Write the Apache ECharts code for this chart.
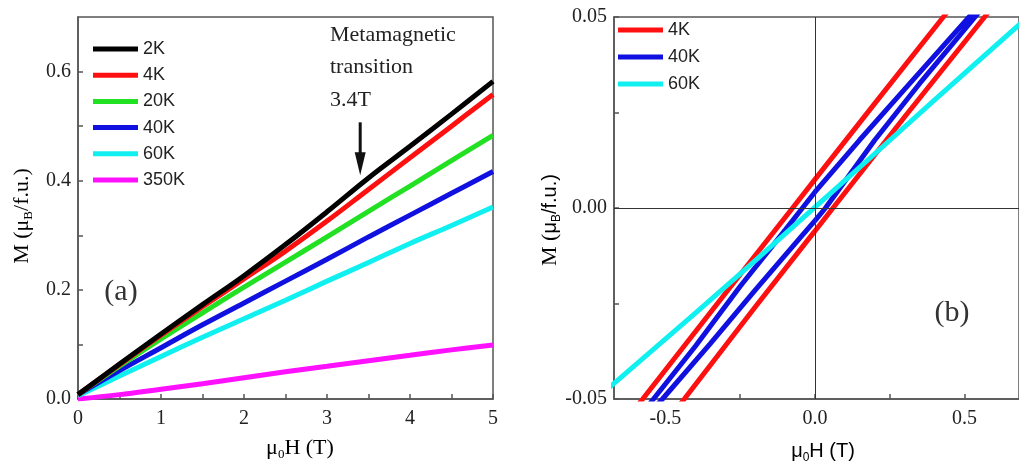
<!DOCTYPE html>
<html>
<head>
<meta charset="utf-8">
<script src="https://cdn.jsdelivr.net/npm/echarts@6/dist/echarts.min.js"></script>
<style>html,body{margin:0;padding:0;background:#fff;}#c{width:1019px;height:469px;}</style>
</head>
<body>
<div id="c"></div>
<script>
// ---------- Panel (a): M vs field ----------
const fieldA = [0, 0.5, 1, 1.5, 2, 2.5, 3, 3.5, 4, 4.5, 5];
const m2K   = [0.008, 0.064, 0.119, 0.173, 0.226, 0.283, 0.343, 0.405, 0.463, 0.522, 0.582];
const m4K   = [0.008, 0.063, 0.117, 0.169, 0.220, 0.271, 0.326, 0.384, 0.442, 0.500, 0.558];
const m20K  = [0.008, 0.060, 0.110, 0.158, 0.205, 0.251, 0.297, 0.344, 0.390, 0.437, 0.483];
const m40K  = [0.008, 0.052, 0.094, 0.136, 0.176, 0.216, 0.256, 0.297, 0.337, 0.377, 0.417];
const m60K  = [0.006, 0.042, 0.078, 0.113, 0.147, 0.181, 0.216, 0.250, 0.285, 0.318, 0.352];
const m350K = [0.000, 0.008, 0.018, 0.028, 0.039, 0.050, 0.060, 0.070, 0.080, 0.090, 0.099];
const namesA = ['2K', '4K', '20K', '40K', '60K', '350K'];
const xLabelsA = [0, 1, 2, 3, 4, 5];
const xTicksA = [0, 0.5, 1, 1.5, 2, 2.5, 3, 3.5, 4, 4.5, 5];
const yLabelsA = [0, 0.2, 0.4, 0.6];
const yTicksA = [0, 0.1, 0.2, 0.3, 0.4, 0.5, 0.6];
const arrowField = 3.4, arrowTopM = 0.507, arrowTipM = 0.41;

// ---------- Panel (b): low-field loops [H, M] ----------
const red4KDown = [[0.7, 0.0771], [0.429, 0.05], [0.2, 0.0274], [0, 0.0075], [-0.075, 0], [-0.3, -0.0224], [-0.576, -0.05], [-0.7, -0.0622]];
const red4KUp   = [[-0.7, -0.0756], [-0.437, -0.05], [-0.2, -0.0259], [0, -0.006], [0.06, 0], [0.3, 0.0239], [0.567, 0.05], [0.7, 0.0637]];
const blue40KDown = [[0.7, 0.066], [0.515, 0.05], [0.3, 0.0311], [0.149, 0.0178], [0, 0.0042], [-0.042, 0], [-0.1, -0.0058], [-0.25, -0.0205], [-0.4, -0.0362], [-0.54, -0.05], [-0.7, -0.066]];
const blue40KUp   = [[-0.7, -0.066], [-0.51, -0.05], [-0.35, -0.0355], [-0.2, -0.0215], [-0.05, -0.0078], [0, -0.0033], [0.035, 0], [0.2, 0.0178], [0.35, 0.0326], [0.535, 0.05], [0.7, 0.066]];
const cyan60K = [[-0.7, -0.0478], [-0.4, -0.0275], [-0.2, -0.0138], [0, 0.0002], [0.2, 0.0142], [0.4, 0.0283], [0.7, 0.0492]];
const namesB = ['4K', '40K', '60K'];
const xLabelsB = [-0.5, 0, 0.5];
const xTicksB = [-0.5, -0.25, 0, 0.25, 0.5];
const yLabelsB = [-0.05, 0, 0.05];
const yTicksB = [-0.05, -0.025, 0, 0.025, 0.05];

const colors = {'2K': '#000000', '4K': '#ff1010', '20K': '#22e022', '40K': '#1010e0', '60K': '#10f0f0', '350K': '#ff10ff'};

const SERIF = 'Liberation Serif';
const SANS = 'Liberation Sans';
const AX = '#555';

function pairs(xs, ys) { return xs.map((x, i) => [x, ys[i]]); }

const chart = echarts.init(document.getElementById('c'), null, {renderer: 'canvas'});

function axisCommon(labels, ticks, fmt, margin) {
  return {
    axisLine: {show: true, onZero: false, lineStyle: {color: AX, width: 1.5}},
    axisTick: {show: true, inside: true, length: 5, customValues: ticks, lineStyle: {color: AX, width: 1.5}},
    axisLabel: {customValues: labels, formatter: fmt, fontFamily: SERIF, fontSize: 20, color: '#222', margin: margin},
    splitLine: {show: false}
  };
}

const seriesA = [
  ['350K', m350K], ['60K', m60K], ['40K', m40K], ['20K', m20K], ['4K', m4K], ['2K', m2K]
].map(([n, d]) => ({
  name: n, type: 'line', xAxisIndex: 0, yAxisIndex: 0,
  data: pairs(fieldA, d), showSymbol: false, smooth: 0.4,
  lineStyle: {color: colors[n], width: 5}, itemStyle: {color: colors[n]}, silent: true
}));

const seriesB = [
  {name: '4K', data: red4KDown.concat(red4KUp)},
  {name: '40K', data: blue40KDown.concat(blue40KUp)},
  {name: '60K', data: cyan60K}
].map(s => ({
  name: s.name, type: 'line', xAxisIndex: 1, yAxisIndex: 1,
  data: s.data, showSymbol: false, smooth: false, clip: true,
  lineStyle: {color: colors[s.name], width: 5}, itemStyle: {color: colors[s.name]}, silent: true
}));
seriesB[0].markLine = {
  silent: true, symbol: 'none', label: {show: false},
  lineStyle: {color: '#333', width: 1, type: 'solid'},
  data: [{xAxis: 0}, {yAxis: 0}]
};

chart.setOption({
  backgroundColor: '#fff',
  animation: false,
  grid: [
    {left: 78, top: 17, right: 526, bottom: 70, show: true, borderColor: AX, borderWidth: 1.5},
    {left: 614, top: 17, right: -4, bottom: 70, show: true, borderColor: AX, borderWidth: 1.5}
  ],
  xAxis: [
    Object.assign({type: 'value', gridIndex: 0, min: 0, max: 5}, axisCommon(xLabelsA, xTicksA, v => String(v), 10)),
    Object.assign({type: 'value', gridIndex: 1, min: -0.672, max: 0.682}, axisCommon(xLabelsB, xTicksB, v => v.toFixed(1), 10))
  ],
  yAxis: [
    Object.assign({type: 'value', gridIndex: 0, min: 0, max: 0.7}, axisCommon(yLabelsA, yTicksA, v => v.toFixed(1), 7)),
    Object.assign({type: 'value', gridIndex: 1, min: -0.05, max: 0.05}, axisCommon(yLabelsB, yTicksB, v => v.toFixed(2), 7))
  ],
  legend: [
    {data: namesA, orient: 'vertical', left: 93, top: 40, padding: 0, itemWidth: 45, itemHeight: 5, itemGap: 8.2,
     icon: 'rect', selectedMode: false, textStyle: {fontFamily: SANS, fontSize: 18, color: '#222'}},
    {data: namesB, orient: 'vertical', left: 618, top: 21, padding: 0, itemWidth: 45, itemHeight: 5, itemGap: 9,
     icon: 'rect', selectedMode: false, textStyle: {fontFamily: SANS, fontSize: 18, color: '#222'}}
  ],
  series: seriesA.concat(seriesB)
});

// Annotation arrow (data coordinates -> pixels)
const pTop = chart.convertToPixel({gridIndex: 0}, [arrowField, arrowTopM]);
const pTip = chart.convertToPixel({gridIndex: 0}, [arrowField, arrowTipM]);
const headLen = 23, headHalf = 5.5;

const richNameA = {
  n: {fontFamily: SERIF, fontSize: 22, color: '#222', verticalAlign: 'middle', lineHeight: 26},
  s: {fontFamily: SERIF, fontSize: 13, color: '#222', verticalAlign: 'bottom', lineHeight: 13}
};
const richNameB = {
  n: {fontFamily: SERIF, fontSize: 22, color: '#222', verticalAlign: 'middle', lineHeight: 26},
  m: {fontFamily: SANS, fontSize: 20, color: '#222', verticalAlign: 'middle', lineHeight: 26},
  s: {fontFamily: SANS, fontSize: 12, color: '#222', verticalAlign: 'bottom', lineHeight: 13}
};

chart.setOption({
  graphic: [
    {type: 'line', silent: true, shape: {x1: pTop[0], y1: pTop[1], x2: pTip[0], y2: pTip[1] - headLen + 2},
     style: {stroke: '#111', lineWidth: 3}},
    {type: 'polygon', silent: true, shape: {points: [[pTip[0], pTip[1]], [pTip[0] - headHalf, pTip[1] - headLen], [pTip[0] + headHalf, pTip[1] - headLen]]},
     style: {fill: '#111'}},
    {type: 'text', silent: true, x: 330, y: 35, style: {text: 'Metamagnetic', font: '22px "Liberation Serif"', fill: '#222', textAlign: 'left', textVerticalAlign: 'middle'}},
    {type: 'text', silent: true, x: 330, y: 67, style: {text: 'transition', font: '22px "Liberation Serif"', fill: '#222', textAlign: 'left', textVerticalAlign: 'middle'}},
    {type: 'text', silent: true, x: 330, y: 100, style: {text: '3.4T', font: '22px "Liberation Serif"', fill: '#222', textAlign: 'left', textVerticalAlign: 'middle'}},
    {type: 'text', silent: true, x: 121, y: 292, style: {text: '(a)', font: '30px "Liberation Serif"', fill: '#333', textAlign: 'center', textVerticalAlign: 'middle'}},
    {type: 'text', silent: true, x: 952, y: 313, style: {text: '(b)', font: '30px "Liberation Serif"', fill: '#333', textAlign: 'center', textVerticalAlign: 'middle'}},
    {type: 'text', silent: true, x: 22, y: 216, rotation: Math.PI / 2,
     style: {text: '{n|M (μ}{s|B}{n|/f.u.)}', rich: richNameA, textAlign: 'center', textVerticalAlign: 'middle'}},
    {type: 'text', silent: true, x: 300, y: 448,
     style: {text: '{n|μ}{s|0}{n|H (T)}', rich: richNameA, textAlign: 'center', textVerticalAlign: 'middle'}},
    {type: 'text', silent: true, x: 550, y: 220, rotation: Math.PI / 2,
     style: {text: '{n|M (}{m|μ}{s|B}{m|/f.u.)}', rich: richNameB, textAlign: 'center', textVerticalAlign: 'middle'}},
    {type: 'text', silent: true, x: 823, y: 451,
     style: {text: '{m|μ}{s|0}{m|H (T)}', rich: richNameB, textAlign: 'center', textVerticalAlign: 'middle'}}
  ]
});
</script>
</body>
</html>
